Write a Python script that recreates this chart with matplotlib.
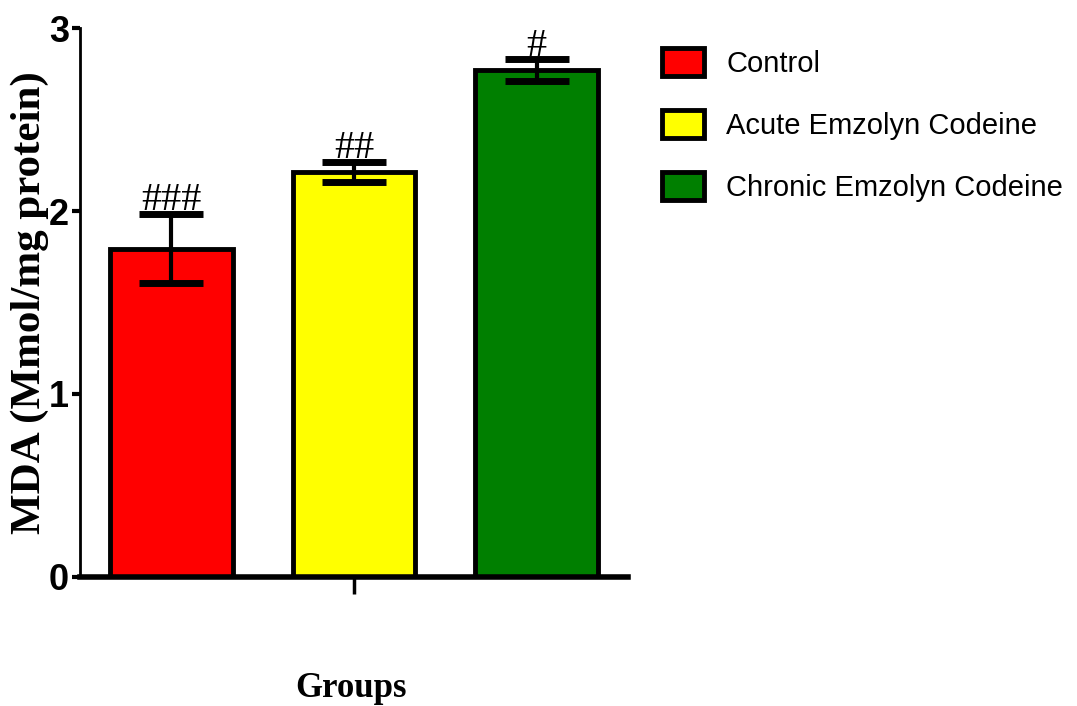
import matplotlib.pyplot as plt
from matplotlib import font_manager

groups = ["Control", "Acute Emzolyn Codeine", "Chronic Emzolyn Codeine"]
mda = [1.795, 2.215, 2.77]
sem = [0.19, 0.055, 0.06]
marks = ["###", "##", "#"]
colors = ["#ff0000", "#ffff00", "#007f00"]

names = {f.name for f in font_manager.fontManager.ttflist}
narrow = "Liberation Sans Narrow" if "Liberation Sans Narrow" in names else "Liberation Sans"

fig = plt.figure(figsize=(10.77, 7.06), dpi=100)
ax = fig.add_axes([0.0743, 0.183, 0.5087, 0.777])

x = list(range(len(groups)))
bars = ax.bar(x, mda, width=0.67, color=colors, edgecolor="black", linewidth=3.5,
              label=groups, zorder=2)
ax.errorbar(x, mda, yerr=sem, fmt="none", ecolor="black", elinewidth=3,
            capsize=23, capthick=5, zorder=3)

for xi, m, e, s in zip(x, mda, sem, marks):
    ax.text(xi, m + e - 0.03, s, ha="center", va="bottom",
            family="Liberation Serif", fontsize=29)

ax.set_xlim(-0.5, 2.5)
ax.set_ylim(0, 3)
ax.set_yticks([0, 1, 2, 3])
ax.set_xticks([1])
ax.set_xticklabels([""])
ax.tick_params(axis="y", direction="out", length=6, width=3, pad=2)
ax.tick_params(axis="x", direction="out", length=12, width=2.5)
for lab in ax.get_yticklabels():
    lab.set_family(narrow)
    lab.set_fontweight("bold")
    lab.set_fontsize(26)

for side in ["top", "right"]:
    ax.spines[side].set_visible(False)
ax.spines["left"].set_linewidth(2)
ax.spines["bottom"].set_linewidth(4)

ax.set_ylabel("MDA (Mmol/mg protein)", family="Liberation Serif", fontweight="bold",
              fontsize=31, labelpad=0)
fig.text(0.326, 0.025, "Groups", family="Liberation Serif", fontweight="bold",
         fontsize=25, ha="center", va="center")

leg = ax.legend(handles=bars.patches, labels=groups, loc="upper left",
                bbox_to_anchor=(0.604, 0.949), bbox_transform=fig.transFigure,
                frameon=False, prop={"family": narrow, "size": 21},
                handlelength=1.45, handleheight=1.1, labelspacing=1.1,
                handletextpad=0.75, borderaxespad=0)

fig.savefig("out.png", dpi=100)
